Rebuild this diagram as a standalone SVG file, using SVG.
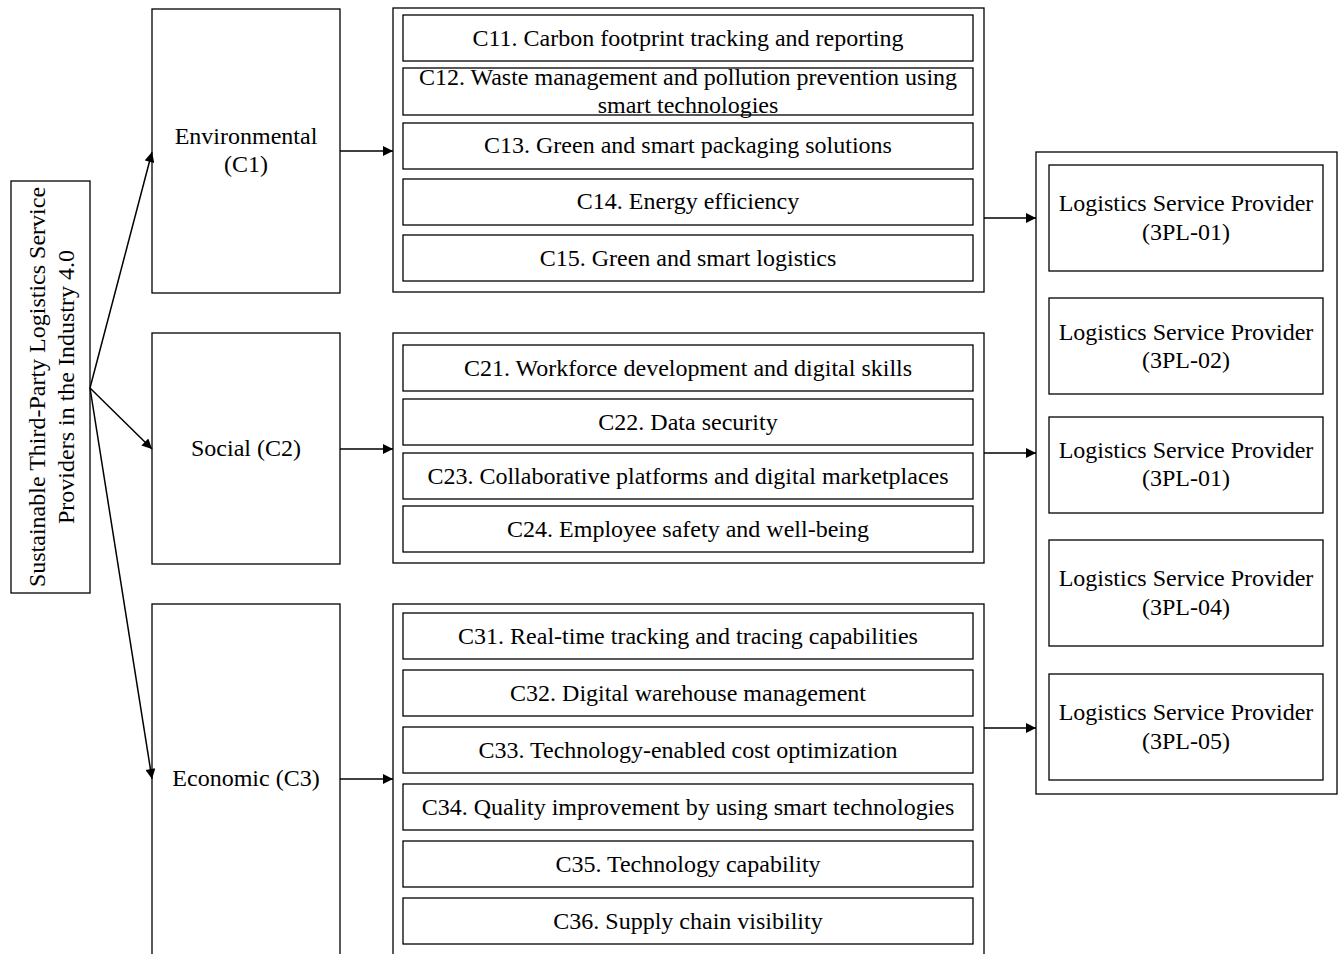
<svg xmlns="http://www.w3.org/2000/svg" width="1341" height="954" viewBox="0 0 1341 954">
<defs>
<style>
rect{fill:#fff;stroke:#000;stroke-width:1.3}
text{font-family:"Liberation Serif","Times New Roman",serif;font-size:24px;fill:#000;text-anchor:middle}
.c line{stroke:#000;stroke-width:1.5;marker-end:url(#a)}
</style>
<marker id="a" viewBox="0 0 10 10" refX="10" refY="5" markerWidth="12" markerHeight="10" markerUnits="userSpaceOnUse" orient="auto"><path d="M0,0L10,5L0,10z" fill="#000"/></marker>
</defs>
<rect width="1341" height="954" style="stroke:none"/>
<g id="root"><rect x="11" y="181" width="79" height="412"/>
<text transform="translate(45,387) rotate(-90)">Sustainable Third-Party Logistics Service</text>
<text transform="translate(74,387) rotate(-90)">Providers in the Industry 4.0</text></g>
<g id="c1"><rect x="152" y="9" width="188" height="284"/><text x="246" y="144">Environmental</text><text x="246" y="172">(C1)</text></g>
<g id="c2"><rect x="152" y="333" width="188" height="231"/><text x="246" y="456">Social (C2)</text></g>
<g id="c3"><rect x="152" y="604" width="188" height="360"/><text x="246" y="786">Economic (C3)</text></g>
<g id="g1"><rect x="393" y="8" width="591" height="284"/>
<g id="c11"><rect x="403" y="15" width="570" height="46"/><text x="688" y="46">C11. Carbon footprint tracking and reporting</text></g>
<g id="c12"><rect x="403" y="68" width="570" height="47"/><text x="688" y="85">C12. Waste management and pollution prevention using</text><text x="688" y="113">smart technologies</text></g>
<g id="c13"><rect x="403" y="123" width="570" height="46"/><text x="688" y="153">C13. Green and smart packaging solutions</text></g>
<g id="c14"><rect x="403" y="179" width="570" height="46"/><text x="688" y="209">C14. Energy efficiency</text></g>
<g id="c15"><rect x="403" y="235" width="570" height="46"/><text x="688" y="266">C15. Green and smart logistics</text></g></g>
<g id="g2"><rect x="393" y="333" width="591" height="230"/>
<g id="c21"><rect x="403" y="345" width="570" height="46"/><text x="688" y="376">C21. Workforce development and digital skills</text></g>
<g id="c22"><rect x="403" y="399" width="570" height="46"/><text x="688" y="430">C22. Data security</text></g>
<g id="c23"><rect x="403" y="453" width="570" height="46"/><text x="688" y="484">C23. Collaborative platforms and digital marketplaces</text></g>
<g id="c24"><rect x="403" y="506" width="570" height="46"/><text x="688" y="537">C24. Employee safety and well-being</text></g></g>
<g id="g3"><rect x="393" y="604" width="591" height="360"/>
<g id="c31"><rect x="403" y="613" width="570" height="46"/><text x="688" y="644">C31. Real-time tracking and tracing capabilities</text></g>
<g id="c32"><rect x="403" y="670" width="570" height="46"/><text x="688" y="701">C32. Digital warehouse management</text></g>
<g id="c33"><rect x="403" y="727" width="570" height="46"/><text x="688" y="758">C33. Technology-enabled cost optimization</text></g>
<g id="c34"><rect x="403" y="784" width="570" height="46"/><text x="688" y="815">C34. Quality improvement by using smart technologies</text></g>
<g id="c35"><rect x="403" y="841" width="570" height="46"/><text x="688" y="872">C35. Technology capability</text></g>
<g id="c36"><rect x="403" y="898" width="570" height="46"/><text x="688" y="929">C36. Supply chain visibility</text></g></g>
<g id="lsp"><rect x="1036" y="152" width="301" height="642"/>
<g id="p1"><rect x="1049" y="165" width="274" height="106"/><text x="1186" y="211">Logistics Service Provider</text><text x="1186" y="240">(3PL-01)</text></g>
<g id="p2"><rect x="1049" y="298" width="274" height="96"/><text x="1186" y="340">Logistics Service Provider</text><text x="1186" y="368">(3PL-02)</text></g>
<g id="p3"><rect x="1049" y="417" width="274" height="96"/><text x="1186" y="458">Logistics Service Provider</text><text x="1186" y="486">(3PL-01)</text></g>
<g id="p4"><rect x="1049" y="540" width="274" height="106"/><text x="1186" y="586">Logistics Service Provider</text><text x="1186" y="615">(3PL-04)</text></g>
<g id="p5"><rect x="1049" y="674" width="274" height="106"/><text x="1186" y="720">Logistics Service Provider</text><text x="1186" y="749">(3PL-05)</text></g></g>
<g class="c" id="connectors">
<line x1="90" y1="388" x2="152" y2="152"/>
<line x1="90" y1="388" x2="152" y2="449"/>
<line x1="90" y1="388" x2="152" y2="779"/>
<line x1="340" y1="151" x2="393" y2="151"/>
<line x1="340" y1="449" x2="393" y2="449"/>
<line x1="340" y1="779" x2="393" y2="779"/>
<line x1="984" y1="218" x2="1036" y2="218"/>
<line x1="984" y1="453" x2="1036" y2="453"/>
<line x1="984" y1="728" x2="1036" y2="728"/>
</g>
</svg>
